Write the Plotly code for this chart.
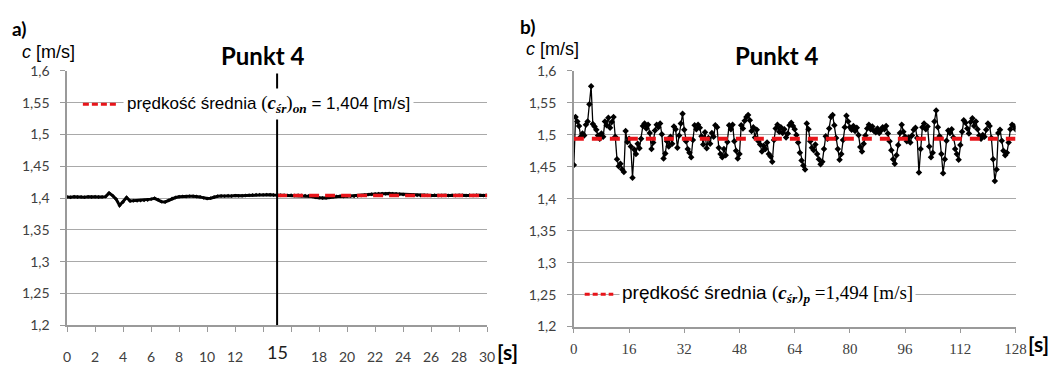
import numpy as np
import plotly.graph_objects as go

# ---- Panel a): velocity at Punkt 4, 0-30 s (0.25 s step) ----
t_a_step = 0.25
c_a = [
    1.4020, 1.4015, 1.4022, 1.4018, 1.4020, 1.4016, 1.4021, 1.4019, 1.4022, 1.4018,
    1.4020, 1.4024, 1.4080, 1.4040, 1.3985, 1.3885, 1.3940, 1.4010, 1.3955, 1.3960,
    1.3958, 1.3962, 1.3965, 1.3972, 1.3985, 1.3998, 1.3975, 1.3945, 1.3940, 1.3965,
    1.3995, 1.4010, 1.4022, 1.4028, 1.4025, 1.4032, 1.4030, 1.4026, 1.4020, 1.4005,
    1.3995, 1.4000, 1.4018, 1.4030, 1.4035, 1.4032, 1.4038, 1.4035, 1.4040, 1.4036,
    1.4038, 1.4042, 1.4045, 1.4050, 1.4053, 1.4055, 1.4052, 1.4056, 1.4054, 1.4050,
    1.4048, 1.4045, 1.4047, 1.4044, 1.4046, 1.4043, 1.4045, 1.4042, 1.4040, 1.4036,
    1.4025, 1.4012, 1.4005, 1.4002, 1.4004, 1.4012, 1.4022, 1.4028, 1.4030, 1.4026,
    1.4030, 1.4032, 1.4030, 1.4035, 1.4040, 1.4048, 1.4056, 1.4062, 1.4066, 1.4070,
    1.4072, 1.4070, 1.4073, 1.4071, 1.4068, 1.4064, 1.4058, 1.4052, 1.4048, 1.4046,
    1.4045, 1.4043, 1.4046, 1.4044, 1.4042, 1.4045, 1.4043, 1.4041, 1.4044, 1.4042,
    1.4045, 1.4043, 1.4046, 1.4044, 1.4042, 1.4045, 1.4043, 1.4046, 1.4044, 1.4042,
    1.4044,
]
mean_a = 1.404
mean_a_span = [15, 30]
split_a = 15

# ---- Panel b): velocity at Punkt 4, 0-128 s (0.5 s step) ----
t_b_step = 0.5
c_b = [
    1.453, 1.528, 1.521, 1.514, 1.497, 1.502, 1.499, 1.516, 1.521, 1.548,
    1.576, 1.517, 1.513, 1.508, 1.499, 1.494, 1.502, 1.497, 1.521, 1.515,
    1.527, 1.511, 1.520, 1.528, 1.497, 1.462, 1.451, 1.455, 1.446, 1.442,
    1.506, 1.489, 1.494, 1.482, 1.433, 1.477, 1.470, 1.486, 1.479, 1.494,
    1.514, 1.518, 1.510, 1.516, 1.503, 1.478, 1.488, 1.507, 1.516, 1.512,
    1.518, 1.501, 1.463, 1.471, 1.490, 1.482, 1.497, 1.486, 1.513, 1.509,
    1.480, 1.499, 1.518, 1.533, 1.508, 1.490, 1.478, 1.472, 1.465, 1.492,
    1.515, 1.509, 1.516, 1.511, 1.498, 1.485, 1.504, 1.479, 1.495, 1.486,
    1.503, 1.497, 1.515, 1.512, 1.480, 1.470, 1.465, 1.478, 1.468, 1.489,
    1.515, 1.509, 1.516, 1.490, 1.475, 1.463, 1.470, 1.515, 1.510, 1.522,
    1.528, 1.531, 1.523, 1.506, 1.512, 1.496, 1.508, 1.490, 1.485, 1.474,
    1.483, 1.478, 1.488, 1.470, 1.466, 1.458, 1.492, 1.510, 1.516, 1.505,
    1.512, 1.503, 1.509, 1.496, 1.502, 1.515, 1.519, 1.514, 1.509, 1.500,
    1.488, 1.472, 1.460, 1.452, 1.446, 1.518, 1.509, 1.490, 1.480, 1.476,
    1.485, 1.470, 1.462, 1.454, 1.458, 1.478, 1.498, 1.494, 1.510, 1.528,
    1.531, 1.515, 1.495, 1.478, 1.461, 1.470, 1.492, 1.512, 1.530, 1.521,
    1.512, 1.508, 1.514, 1.506, 1.511, 1.500, 1.481, 1.474, 1.486, 1.499,
    1.510, 1.516, 1.509, 1.513, 1.506, 1.504, 1.510, 1.503, 1.507, 1.512,
    1.509, 1.514, 1.502, 1.490, 1.476, 1.462, 1.455, 1.468, 1.484, 1.503,
    1.516, 1.505, 1.497, 1.490, 1.496, 1.488, 1.499, 1.508, 1.511, 1.495,
    1.441, 1.478, 1.512, 1.518, 1.509, 1.513, 1.482, 1.465, 1.472, 1.521,
    1.538, 1.512, 1.498, 1.470, 1.440, 1.462, 1.491, 1.507, 1.503, 1.509,
    1.496, 1.478, 1.470, 1.461, 1.484, 1.505, 1.523, 1.519, 1.510, 1.502,
    1.520, 1.526, 1.514, 1.521, 1.509, 1.499, 1.494, 1.500, 1.497, 1.508,
    1.518, 1.514, 1.495, 1.462, 1.428, 1.446, 1.503, 1.508, 1.491, 1.475,
    1.468, 1.472, 1.488, 1.509, 1.516, 1.514, 1.509,
]
mean_b = 1.494

# ---- Axis ticks ----
y_ticks = [1.2, 1.25, 1.3, 1.35, 1.4, 1.45, 1.5, 1.55, 1.6]
y_labels = ["1,2", "1,25", "1,3", "1,35", "1,4", "1,45", "1,5", "1,55", "1,6"]
x_a_ticks = [0, 2, 4, 6, 8, 10, 12, 18, 20, 22, 24, 26, 28, 30]
x_a_labels = ["0", "2", "4", "6", "8", "10", "12", "18", "20", "22", "24", "26", "28", "30"]
x_a_minor = [14, 16]
x_b_ticks = list(range(0, 129, 16))
x_b_labels = ["0", "16", "32", "48", "64", "80", "96", "112", "128"]

t_a = np.arange(len(c_a)) * t_a_step
t_b = np.arange(len(c_b)) * t_b_step

W, H = 1064, 367


def px(x):
    return x / W


def py(y):
    return 1 - y / H


SANS = "Lato, 'Liberation Sans', Arial, sans-serif"
ARIAL = "'Liberation Sans', Arial, sans-serif"
SERIF = "'Liberation Serif', 'DejaVu Serif', serif"
GRID = "#a9a9a9"
AXIS = "#9a9a9a"
RED = "#e8141a"
TICKFONT = dict(family=SANS, size=14, color="#404040")

fig = go.Figure()

fig.add_trace(go.Scatter(
    x=t_a, y=c_a, mode="lines+markers", xaxis="x", yaxis="y",
    line=dict(color="black", width=3),
    marker=dict(color="black", size=3, symbol="diamond"),
    showlegend=False, hoverinfo="skip",
))
fig.add_trace(go.Scatter(
    x=mean_a_span, y=[mean_a, mean_a], mode="lines", xaxis="x", yaxis="y",
    line=dict(color=RED, width=3.5, dash="10px,6px"),
    showlegend=False, hoverinfo="skip",
))
fig.add_trace(go.Scatter(
    x=t_b, y=c_b, mode="lines+markers", xaxis="x2", yaxis="y2",
    line=dict(color="black", width=1.3),
    marker=dict(color="black", size=5, symbol="diamond"),
    showlegend=False, hoverinfo="skip",
))
fig.add_trace(go.Scatter(
    x=[0, 128], y=[mean_b, mean_b], mode="lines", xaxis="x2", yaxis="y2",
    line=dict(color=RED, width=4, dash="10px,8px"),
    showlegend=False, hoverinfo="skip",
))

common_y = dict(
    range=[1.2, 1.6], tickvals=y_ticks, ticktext=y_labels, showgrid=True,
    gridcolor=GRID, gridwidth=1, showline=True, linecolor=AXIS, linewidth=1.5,
    ticks="outside", ticklen=5, tickcolor=AXIS, zeroline=False, tickfont=TICKFONT,
    ticklabelstandoff=8,
)
common_x = dict(
    showgrid=False, showline=True, linecolor=AXIS, linewidth=1.5,
    ticks="outside", ticklen=5, tickcolor=AXIS, zeroline=False,
)

fig.update_layout(
    width=W, height=H, margin=dict(l=0, r=0, t=0, b=0),
    paper_bgcolor="white", plot_bgcolor="white",
    xaxis=dict(domain=[px(64), px(490)], range=[0, 30], tickvals=x_a_ticks,
               ticktext=x_a_labels, anchor="y", tickfont=TICKFONT,
               ticklabelstandoff=13,
               minor=dict(tickvals=x_a_minor, ticks="outside", ticklen=5,
                          tickcolor=AXIS, showgrid=False),
               **common_x),
    yaxis=dict(domain=[py(331.7), py(65)], anchor="x", **common_y),
    xaxis2=dict(domain=[px(578), px(1026)], range=[0, 128], tickvals=x_b_ticks,
                ticktext=x_b_labels, anchor="y2",
                tickfont=dict(family=SERIF, size=15, color="#404040"),
                ticklabelstandoff=3, **common_x),
    yaxis2=dict(domain=[py(333), py(65)], anchor="x2", **common_y),
)

# split marker at 15 s
fig.add_shape(type="line", xref="x", yref="y", x0=split_a, x1=split_a,
              y0=1.2, y1=1.596, line=dict(color="black", width=2))

# legend samples (dashed red)
fig.add_shape(type="line", xref="paper", yref="paper", x0=px(80), x1=px(116),
              y0=py(100), y1=py(100), line=dict(color=RED, width=3, dash="6px,3px"))
fig.add_shape(type="line", xref="paper", yref="paper", x0=px(589), x1=px(618),
              y0=py(299), y1=py(299), line=dict(color=RED, width=3, dash="5px,3px"))

ann = []
# panel letters
ann.append(dict(x=px(6), y=py(20), text="<b>a)</b>", xanchor="left", yanchor="middle",
                font=dict(family=SANS, size=19, color="black")))
ann.append(dict(x=px(521), y=py(18), text="<b>b)</b>", xanchor="left", yanchor="middle",
                font=dict(family=SANS, size=19, color="black")))
# axis units
ann.append(dict(x=px(16), y=py(45), text="<i>c</i> [m/s]", xanchor="left", yanchor="middle",
                font=dict(family=ARIAL, size=18, color="black")))
ann.append(dict(x=px(527), y=py(42), text="<i>c</i> [m/s]", xanchor="left", yanchor="middle",
                font=dict(family=ARIAL, size=18, color="black")))
ann.append(dict(x=px(498), y=py(359), text="<b>[s]</b>", xanchor="left", yanchor="middle",
                font=dict(family=SANS, size=21, color="black")))
ann.append(dict(x=px(1037), y=py(351), text="<b>[s]</b>", xanchor="left", yanchor="middle",
                font=dict(family=SANS, size=21, color="black")))
# titles
ann.append(dict(x=px(262), y=py(49), text="<b>Punkt 4</b>", xanchor="center", yanchor="middle",
                font=dict(family=SANS, size=24, color="black")))
ann.append(dict(x=px(784), y=py(49), text="<b>Punkt 4</b>", xanchor="center", yanchor="middle",
                font=dict(family=SANS, size=24, color="black")))
# emphasised 15 s label
ann.append(dict(x=split_a, xref="x", y=py(360), yref="paper", text="15", xanchor="center",
                yanchor="middle", font=dict(family=SANS, size=18, color="#202020")))
# legend texts
math_a = ("<span style=\"font-family:'Liberation Serif',serif;font-size:19px\">(<b><i>c</i></b>"
          "<sub><b><i>śr</i></b></sub>)<sub><b><i>on</i></b></sub></span>")
ann.append(dict(x=px(121), y=py(100), text="prędkość średnia " + math_a + " = 1,404 [m/s]",
                xanchor="left", yanchor="middle", bgcolor="white", borderpad=3,
                font=dict(family=ARIAL, size=17, color="black")))
math_b = ("<span style=\"font-family:'Liberation Serif',serif\">(<b><i>c</i></b>"
          "<sub><b><i>śr</i></b></sub>)<sub><b><i>p</i></b></sub> =1,494 [m/s]</span>")
ann.append(dict(x=px(624), y=py(299), text="prędkość średnia " + math_b,
                xanchor="left", yanchor="middle", bgcolor="white", borderpad=2,
                font=dict(family=ARIAL, size=19, color="black")))

for a in ann:
    a.setdefault("xref", "paper")
    a.setdefault("yref", "paper")
    a["showarrow"] = False
fig.update_layout(annotations=ann)

fig.write_html("out.html")
